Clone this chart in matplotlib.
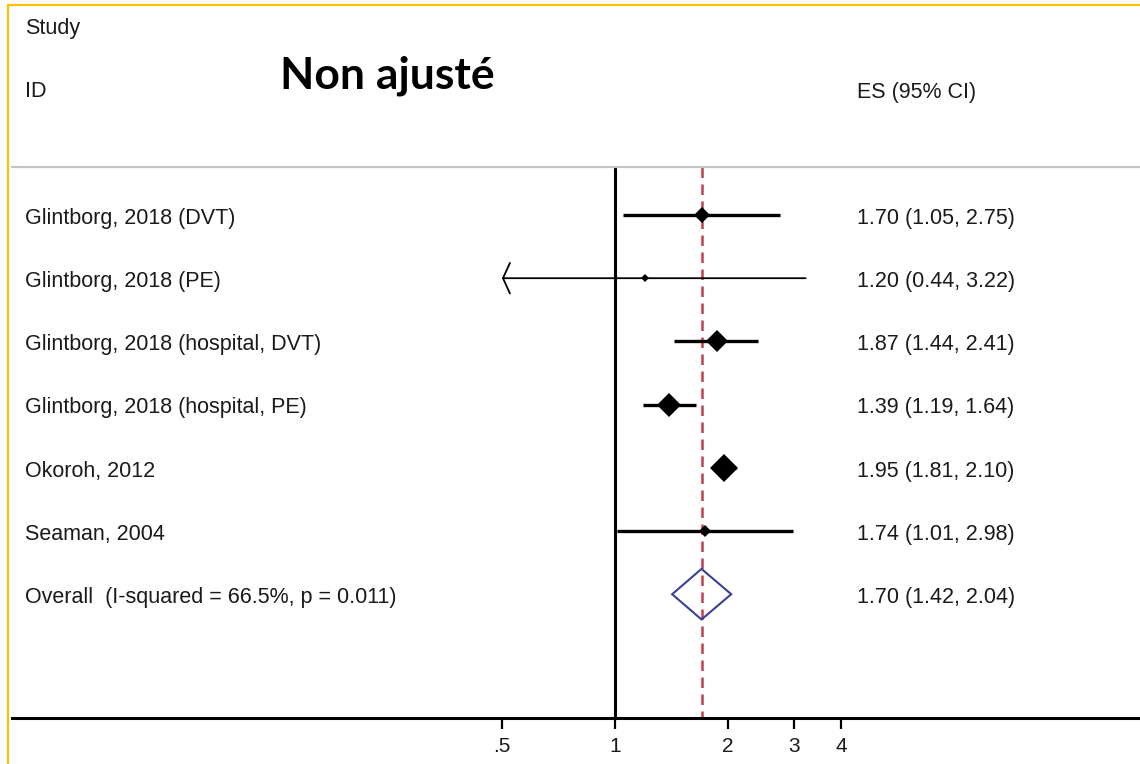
import numpy as np
import matplotlib
matplotlib.use("Agg")
import matplotlib.pyplot as plt
from matplotlib.lines import Line2D
from matplotlib.patches import Polygon
from matplotlib.ticker import FixedLocator, FixedFormatter, NullLocator
from matplotlib.transforms import blended_transform_factory

# Study estimates (effect size with 95% CI)
studies = [
    "Glintborg, 2018 (DVT)",
    "Glintborg, 2018 (PE)",
    "Glintborg, 2018 (hospital, DVT)",
    "Glintborg, 2018 (hospital, PE)",
    "Okoroh, 2012",
    "Seaman, 2004",
]
es = [1.70, 1.20, 1.87, 1.39, 1.95, 1.74]
ci_lo = [1.05, 0.44, 1.44, 1.19, 1.81, 1.01]
ci_hi = [2.75, 3.22, 2.41, 1.64, 2.10, 2.98]

overall_label = "Overall  (I-squared = 66.5%, p = 0.011)"
overall_es = 1.70
overall_lo = 1.42
overall_hi = 2.04

xticks = [0.5, 1, 2, 3, 4]
xtick_labels = [".5", "1", "2", "3", "4"]

# weight box sizes (points) and CI line widths
box_ms = [8.0, 3.8, 10.7, 12.5, 14.2, 6.0]
ci_lw = [2.4, 1.3, 2.4, 2.4, 2.4, 2.4]

W, H = 1140, 764
FONT = "Liberation Sans"


def fx(px):
    return px / W


def fy(py):
    return 1 - py / H


fig = plt.figure(figsize=(W / 100, H / 100), dpi=100)
fig.patch.set_facecolor("white")

# axes: x from px 12 to right edge, y from top to the axis line at px 718
ax = fig.add_axes([fx(12), fy(718), 1 - fx(12), fy(0) - fy(718)])
ax.set_xscale("log")
px_per_ln = 113 / np.log(2)
ax.set_xlim(np.exp((12 - 615) / px_per_ln), np.exp((1140 - 615) / px_per_ln))
row0, row_h = 215, 63.2
ax.set_ylim((718 - row0) / row_h, -row0 / row_h)
top_rule = (167 - row0) / row_h
y_bottom = (718 - row0) / row_h

for s in ("top", "left", "right"):
    ax.spines[s].set_visible(False)
ax.spines["bottom"].set_linewidth(2.2)
ax.set_yticks([])
ax.xaxis.set_major_locator(FixedLocator(xticks))
ax.xaxis.set_major_formatter(FixedFormatter(xtick_labels))
ax.xaxis.set_minor_locator(NullLocator())
ax.tick_params(axis="x", direction="out", length=8, width=1.6, pad=6,
               labelsize=15, labelcolor="#1a1a1a")
for lab in ax.get_xticklabels():
    lab.set_fontfamily(FONT)

# null line and overall line
ax.vlines(1, top_rule, y_bottom, color="black", lw=2.2, zorder=2)
ax.vlines(overall_es, top_rule, y_bottom, color="#c0404e", lw=1.8,
          linestyles=(0, (4.2, 2.6)), zorder=1)

x_floor = xticks[0]
rows = np.arange(len(studies))
for i in rows:
    if ci_lo[i] < x_floor:
        # CI runs past the axis: clip it and mark with an open arrowhead
        ax.annotate("", xy=(x_floor, i), xytext=(ci_hi[i], i),
                    arrowprops=dict(arrowstyle="->,head_length=0.25,head_width=0.55",
                                    lw=ci_lw[i], color="black",
                                    shrinkA=0, shrinkB=0, mutation_scale=20),
                    zorder=3)
    else:
        ax.hlines(i, ci_lo[i], ci_hi[i], color="black", lw=ci_lw[i], zorder=3)
    ax.plot(es[i], i, marker="D", ms=box_ms[i], color="black", mew=0,
            zorder=4)

# pooled estimate diamond
yo = len(studies)
h = 0.4
ax.add_patch(Polygon([(overall_lo, yo), (overall_es, yo - h),
                      (overall_hi, yo), (overall_es, yo + h)],
                     closed=True, fill=False, edgecolor="#3a3f98", lw=1.5,
                     zorder=5))

# labels on the left and estimates on the right
tr = blended_transform_factory(fig.transFigure, ax.transData)
labels = studies + [overall_label]
values = [f"{e:.2f} ({l:.2f}, {u:.2f})" for e, l, u in zip(es, ci_lo, ci_hi)]
values.append(f"{overall_es:.2f} ({overall_lo:.2f}, {overall_hi:.2f})")
for i, (lab, val) in enumerate(zip(labels, values)):
    ax.text(fx(25), i + 0.14, lab, transform=tr, ha="left", va="baseline",
            fontsize=15.5, family=FONT, color="#1a1a1a")
    ax.text(fx(857), i + 0.14, val, transform=tr, ha="left", va="baseline",
            fontsize=15.5, family=FONT, color="#1a1a1a")

# header
fig.text(fx(25), fy(34), "Study", ha="left", va="baseline", fontsize=15.5,
         family=FONT, color="#1a1a1a")
fig.text(fx(25), fy(97), "ID", ha="left", va="baseline", fontsize=15.5,
         family=FONT, color="#1a1a1a")
fig.text(fx(857), fy(98), "ES (95% CI)", ha="left", va="baseline",
         fontsize=15.5, family=FONT, color="#1a1a1a")
fig.text(fx(280), fy(88), "Non ajusté", ha="left", va="baseline",
         fontsize=32, family="Lato", fontweight="bold", color="black")

# header rule and outer frame
fig.add_artist(Line2D([fx(12), 1], [fy(167), fy(167)], color="#c4c4c4",
                      lw=1.6))
fig.add_artist(Line2D([fx(8), fx(8)], [0, fy(5)], color="#ffc000", lw=1.6))
fig.add_artist(Line2D([fx(8), 1], [fy(5), fy(5)], color="#ffc000", lw=1.6))

fig.savefig("out.png", dpi=100)
